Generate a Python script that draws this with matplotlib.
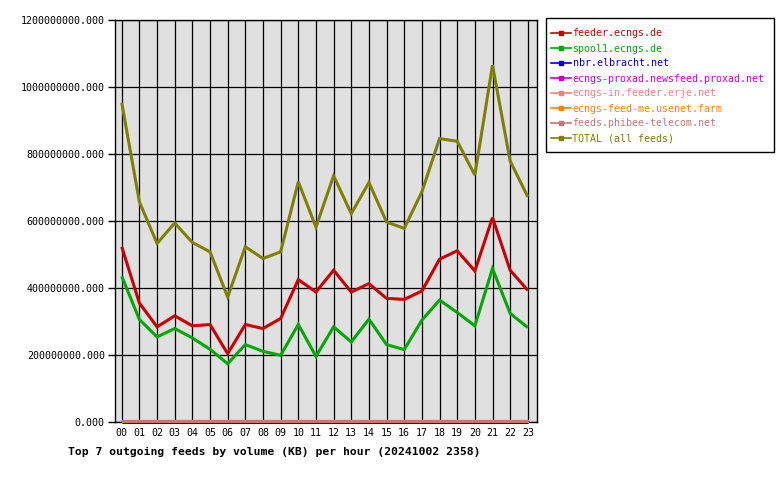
import matplotlib
matplotlib.use("Agg")
import matplotlib.pyplot as plt
from matplotlib.lines import Line2D
from matplotlib.patches import Rectangle
from matplotlib.ticker import FormatStrFormatter

hours = ["00", "01", "02", "03", "04", "05", "06", "07", "08", "09", "10", "11",
         "12", "13", "14", "15", "16", "17", "18", "19", "20", "21", "22", "23"]

feeds = ["feeder.ecngs.de", "spool1.ecngs.de", "nbr.elbracht.net",
         "ecngs-proxad.newsfeed.proxad.net", "ecngs-in.feeder.erje.net",
         "ecngs-feed-me.usenet.farm", "feeds.phibee-telecom.net",
         "TOTAL (all feeds)"]

colors = ["#cc0000", "#00aa00", "#0000cc", "#cc00cc", "#f08080",
          "#ff8000", "#c07878", "#808000"]

# KB per hour
feeder = [523e6, 355e6, 284e6, 317e6, 287e6, 291e6, 204e6, 291e6, 279e6, 309e6, 425e6, 388e6,
          453e6, 388e6, 413e6, 369e6, 366e6, 391e6, 486e6, 511e6, 451e6, 610e6, 453e6, 393e6]
spool1 = [435e6, 306e6, 254e6, 279e6, 251e6, 217e6, 174e6, 231e6, 211e6, 199e6, 291e6, 196e6,
          284e6, 239e6, 307e6, 231e6, 216e6, 304e6, 364e6, 327e6, 287e6, 458e6, 324e6, 282e6]
nbr = [1e6] * 24
proxad = [2e6] * 24
erje = [3e6] * 24
usenet_farm = [3e6] * 24
phibee = [4e6] * 24
total = [953e6, 657e6, 533e6, 594e6, 536e6, 508e6, 373e6, 523e6, 488e6, 508e6, 717e6, 582e6,
         735e6, 622e6, 715e6, 597e6, 578e6, 687e6, 846e6, 838e6, 737e6, 1065e6, 779e6, 672e6]

series = [feeder, spool1, nbr, proxad, erje, usenet_farm, phibee, total]

plt.rcParams['font.family'] = ['DejaVu Sans Mono']

fig = plt.figure(figsize=(7.8, 4.8), dpi=100)
ax = fig.add_axes([114.5 / 780, 1 - 422 / 480, (537 - 114.5) / 780, (422 - 20) / 480])
ax.set_facecolor("#e0e0e0")

x = list(range(len(hours)))
for vals, col in zip(series, colors):
    ax.plot(x, vals, color=col, linewidth=2.2, solid_joinstyle='miter',
            solid_capstyle='butt', clip_on=False, zorder=3)

ax.set_xlim(-0.41, 23.52)
ax.set_ylim(0, 1.2e9)
ax.set_xticks(x)
ax.set_xticklabels(hours)
ax.set_yticks([0, 2e8, 4e8, 6e8, 8e8, 1e9, 1.2e9])
ax.yaxis.set_major_formatter(FormatStrFormatter('%.3f'))
ax.tick_params(axis='y', direction='out', length=5, width=1, labelsize=7.2, pad=2)
ax.tick_params(axis='x', direction='in', length=0, labelsize=7.2, pad=4)
ax.grid(True, color='black', linewidth=0.9)
ax.set_axisbelow(True)
for sp in ax.spines.values():
    sp.set_linewidth(1)

# legend box drawn separately so its size matches the original
fig.patches.append(Rectangle((546 / 780, 1 - 152 / 480), 228 / 780, 134 / 480,
                             transform=fig.transFigure, facecolor='white',
                             edgecolor='black', linewidth=1))
handles = [Line2D([0], [0], color=c, linewidth=1.2, marker='s', markersize=2.2)
           for c in colors]
fig.legend(handles, feeds, loc='upper left',
           bbox_to_anchor=(551 / 780, 1 - 28.5 / 480),
           fontsize=7.2, labelcolor=colors, frameon=False,
           handlelength=2.0, handletextpad=0.15,
           labelspacing=0.5, borderpad=0, borderaxespad=0, numpoints=1)

fig.text(68 / 780, 1 - 452 / 480,
         "Top 7 outgoing feeds by volume (KB) per hour (20241002 2358)",
         fontsize=8.2, fontweight='bold', ha='left', va='center')

fig.savefig("out.png", dpi=100)
